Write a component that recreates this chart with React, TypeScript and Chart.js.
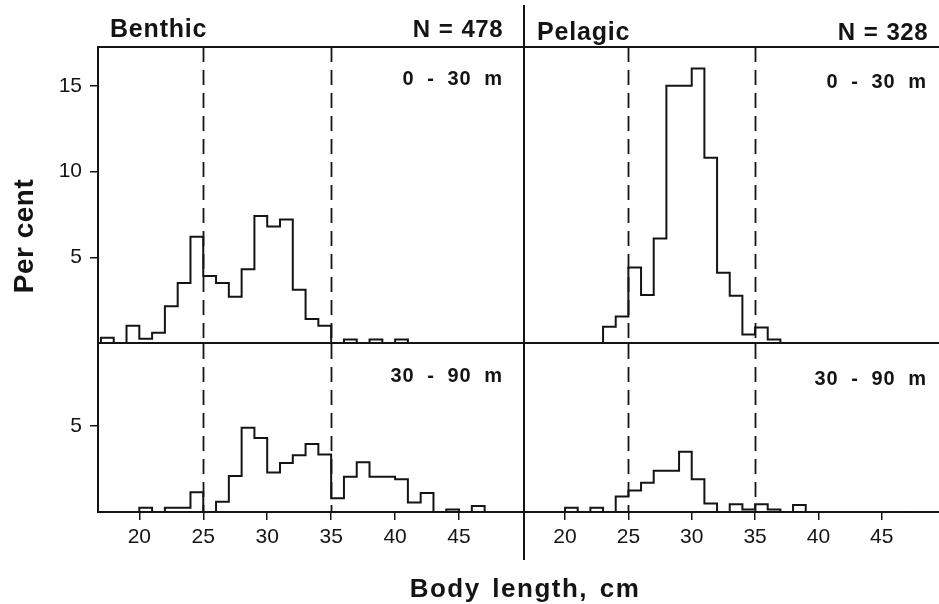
import React, { useEffect, useRef } from 'react';
import { Chart, registerables } from 'chart.js';

Chart.register(...registerables);

// ---------- data ----------
// left edges of the 1-cm length classes (cm); last class ends at binEnd
const binStarts = [17, 18, 19, 20, 21, 22, 23, 24, 25, 26, 27, 28, 29, 30, 31, 32, 33, 34, 35, 36, 37, 38, 39, 40, 41, 42, 43, 44, 45, 46];
const binEnd = 47;

// per cent of fish in each length class
const benthicShallow = [0.3, 0, 1.0, 0.25, 0.6, 2.15, 3.5, 6.2, 3.9, 3.5, 2.7, 4.3, 7.4, 6.8, 7.2, 3.1, 1.4, 1.0, 0, 0.2, 0, 0.2, 0, 0.2, 0, 0, 0, 0, 0, 0];
const pelagicShallow = [0, 0, 0, 0, 0, 0, 0.95, 1.55, 4.4, 2.8, 6.1, 15.0, 15.0, 16.0, 10.8, 4.1, 2.75, 0.5, 0.9, 0.2, 0, 0, 0, 0, 0, 0, 0, 0, 0, 0];
const benthicDeep = [0, 0, 0, 0.25, 0, 0.25, 0.25, 1.15, 0, 0.6, 2.1, 4.9, 4.3, 2.3, 2.85, 3.3, 3.95, 3.35, 0.8, 2.05, 2.9, 2.05, 2.05, 1.9, 0.55, 1.1, 0, 0.15, 0, 0.35];
const pelagicDeep = [0, 0, 0, 0.25, 0, 0.25, 0, 0.9, 1.25, 1.7, 2.4, 2.4, 3.5, 1.9, 0.5, 0, 0.45, 0.15, 0.45, 0.15, 0, 0.4, 0, 0, 0, 0, 0, 0, 0, 0];

const xTickValues = [20, 25, 30, 35, 40, 45];
const yTicksTop = [5, 10, 15];
const yTicksBottom = [5];
const refLines = [25, 35];

const groupTitles = ['Benthic', 'Pelagic'];
const sampleSizes = ['N = 478', 'N = 328'];
const depthLabels = ['0 - 30 m', '30 - 90 m'];
const yTitle = 'Per cent';
const xTitle = 'Body length, cm';

// ---------- layout / style ----------
const W = 939;
const H = 604;
const INK = '#141414';
const FONT = '"Liberation Sans", Arial, Helvetica, sans-serif';
const X_AXIS_H = 50;

const COLS = [
  { l: 98, r: 523, xMin: 16.77, xMax: 50.0, headerY: 37, titleX: 110, nRight: 503, labelRight: 503, labelDy: 0 },
  { l: 524, r: 939, xMin: 16.76, xMax: 49.52, headerY: 40, titleX: 537, nRight: 928, labelRight: 927, labelDy: 3 },
];
const ROWS = [
  { t: 47, b: 343, yMax: 17.26, yTicks: yTicksTop },
  { t: 344, b: 512, yMax: 9.77, yTicks: yTicksBottom },
];

const PANELS = [
  { row: 0, col: 0, values: benthicShallow },
  { row: 0, col: 1, values: pelagicShallow },
  { row: 1, col: 0, values: benthicDeep },
  { row: 1, col: 1, values: pelagicDeep },
];

function drawText(ctx: any, str: string, x: number, y: number, o: any) {
  ctx.save();
  ctx.font = `${o.weight || 'bold'} ${o.size}px ${FONT}`;
  ctx.fillStyle = INK;
  ctx.textAlign = o.align || 'left';
  ctx.textBaseline = 'alphabetic';
  try { ctx.letterSpacing = `${o.spacing || 0}px`; } catch (e) { /* ignore */ }
  try { ctx.wordSpacing = `${o.wordSpacing || 0}px`; } catch (e) { /* ignore */ }
  ctx.translate(x, y);
  if (o.rotate) ctx.rotate(o.rotate);
  ctx.fillText(str, 0, 0);
  ctx.restore();
}

function line(ctx: any, x1: number, y1: number, x2: number, y2: number, w: number, dash?: number[]) {
  ctx.save();
  ctx.strokeStyle = INK;
  ctx.lineWidth = w;
  ctx.setLineDash(dash || []);
  ctx.beginPath();
  ctx.moveTo(x1, y1);
  ctx.lineTo(x2, y2);
  ctx.stroke();
  ctx.restore();
}

function decorPlugin(p: any) {
  const col = COLS[p.col];
  return {
    id: 'decor' + p.row + p.col,
    beforeDatasetsDraw(chart: any) {
      const ctx = chart.ctx;
      const a = chart.chartArea;
      const xs = chart.scales.x;
      refLines.forEach((v) => {
        const px = Math.round(xs.getPixelForValue(v)) + 0.5;
        line(ctx, px, a.top, px, a.bottom, 1.8, [15, 8]);
      });
    },
    afterDraw(chart: any) {
      const ctx = chart.ctx;
      const a = chart.chartArea;
      if (p.row === 0) {
        line(ctx, a.left, a.top, a.right, a.top, 2);
        line(ctx, a.left, a.bottom, a.right, a.bottom, 2);
        drawText(ctx, groupTitles[p.col], col.titleX, col.headerY, { size: 25, spacing: 0.8 });
        drawText(ctx, sampleSizes[p.col], col.nRight, col.headerY, { size: 24, spacing: 0.5, wordSpacing: 1, align: 'right' });
      }
      drawText(ctx, depthLabels[p.row], col.labelRight, a.top + 38 + col.labelDy, { size: 20, spacing: 1, wordSpacing: 6, align: 'right' });
      if (p.row === 0 && p.col === 1) {
        line(ctx, a.left, 5, a.left, 560, 2);
      }
      if (p.row === 0 && p.col === 0) {
        drawText(ctx, yTitle, 33, 236, { size: 28, spacing: 0.5, align: 'center', rotate: -Math.PI / 2 });
        drawText(ctx, xTitle, 525, 597, { size: 26, spacing: 1.5, wordSpacing: 3, align: 'center' });
      }
    },
  };
}

function makeConfig(p: any): any {
  const col = COLS[p.col];
  const row = ROWS[p.row];
  const showX = p.row === 1;
  const showY = p.col === 0;
  const pts = [{ x: binStarts[0], y: 0 }]
    .concat(binStarts.map((x, i) => ({ x, y: p.values[i] })))
    .concat([{ x: binEnd, y: 0 }]);
  return {
    type: 'line',
    data: {
      datasets: [
        {
          data: pts,
          stepped: true,
          borderColor: INK,
          borderWidth: 2,
          pointRadius: 0,
          fill: false,
          clip: false,
        },
      ],
    },
    options: {
      animation: false,
      responsive: false,
      events: [],
      layout: {
        padding: {
          left: showY ? 0 : col.l,
          right: W - col.r,
          top: row.t,
          bottom: showX ? H - row.b - X_AXIS_H : H - row.b,
        },
      },
      plugins: { legend: { display: false }, tooltip: { enabled: false }, title: { display: false } },
      scales: {
        x: {
          type: 'linear',
          min: col.xMin,
          max: col.xMax,
          display: showX,
          afterBuildTicks: (s: any) => { s.ticks = xTickValues.map((v) => ({ value: v })); },
          afterFit: (s: any) => { s.height = showX ? X_AXIS_H : 0; s.paddingLeft = 0; s.paddingRight = 0; s.paddingTop = 0; s.paddingBottom = 0; },
          grid: { drawOnChartArea: false, drawTicks: true, tickLength: 8, color: INK, lineWidth: 1.5 },
          border: { display: true, color: INK, width: 2 },
          ticks: { autoSkip: false, maxRotation: 0, padding: 5, color: INK, font: { family: FONT, size: 21 }, callback: (v: any) => String(v) },
        },
        y: {
          type: 'linear',
          min: 0,
          max: row.yMax,
          display: showY,
          afterBuildTicks: (s: any) => { s.ticks = row.yTicks.map((v) => ({ value: v })); },
          afterFit: (s: any) => { s.width = showY ? col.l : 0; s.paddingLeft = 0; s.paddingRight = 0; s.paddingTop = 0; s.paddingBottom = 0; },
          grid: { drawOnChartArea: false, drawTicks: true, tickLength: 8, color: INK, lineWidth: 1.5 },
          border: { display: true, color: INK, width: 2 },
          ticks: { padding: 8, color: INK, font: { family: FONT, size: 21 }, callback: (v: any) => String(v) },
        },
      },
    },
    plugins: [decorPlugin(p)],
  };
}

export default function App() {
  const r0 = useRef<HTMLCanvasElement>(null);
  const r1 = useRef<HTMLCanvasElement>(null);
  const r2 = useRef<HTMLCanvasElement>(null);
  const r3 = useRef<HTMLCanvasElement>(null);
  const refs = [r0, r1, r2, r3];

  useEffect(() => {
    document.body.style.margin = '0';
    document.body.style.overflow = 'hidden';
    const charts = PANELS.map((p, i) => new Chart(refs[i].current as HTMLCanvasElement, makeConfig(p)));
    return () => charts.forEach((c) => c.destroy());
  }, []);

  return (
    <div style={{ position: 'relative', width: W, height: H, background: '#fff', overflow: 'hidden' }}>
      {refs.map((r, i) => (
        <canvas key={i} ref={r} width={W} height={H} style={{ position: 'absolute', left: 0, top: 0, width: W, height: H }} />
      ))}
    </div>
  );
}
